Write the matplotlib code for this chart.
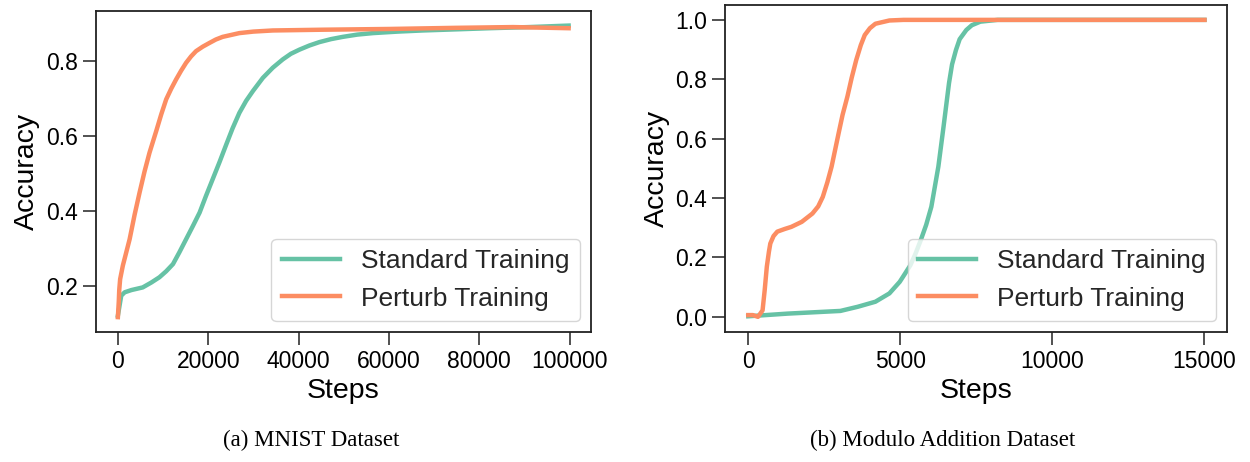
import numpy as np
import matplotlib
matplotlib.use('Agg')
import matplotlib.pyplot as plt

# MNIST
mnist_std_steps = [0, 740, 1500, 3000, 5500, 7400, 9200, 10700, 12200, 13600, 15100, 16600,
                   18100, 19500, 21000, 22500, 24000, 25400, 26900, 28400, 29900, 32100,
                   34300, 36500, 38300, 40200, 42400, 44600, 47200, 49800, 53000, 56500,
                   62000, 67500, 75000, 82300, 91000, 99800]
mnist_std_acc = [0.122, 0.175, 0.184, 0.190, 0.197, 0.210, 0.224, 0.240, 0.259, 0.290, 0.325,
                 0.360, 0.396, 0.440, 0.485, 0.530, 0.577, 0.620, 0.661, 0.693, 0.719, 0.754,
                 0.781, 0.803, 0.818, 0.829, 0.840, 0.849, 0.857, 0.863, 0.869, 0.873,
                 0.877, 0.880, 0.883, 0.886, 0.889, 0.893]
mnist_pert_steps = [0, 200, 300, 500, 1100, 2600, 3700, 4800, 5900, 7000, 8500, 9600, 10700,
                    11800, 12900, 14000, 15100, 16200, 17300, 18800, 20300, 21700, 23200,
                    26900, 30000, 34300, 45400, 60100, 74900, 87500, 99800]
mnist_pert_acc = [0.118, 0.160, 0.190, 0.219, 0.255, 0.325, 0.390, 0.449, 0.505, 0.555, 0.613,
                  0.657, 0.697, 0.725, 0.750, 0.773, 0.794, 0.811, 0.825, 0.837, 0.847, 0.856,
                  0.863, 0.873, 0.877, 0.880, 0.882, 0.884, 0.887, 0.889, 0.886]

# Modulo addition
mod_std_steps = [0, 1300, 3030, 3600, 4180, 4640, 4980, 5150, 5330, 5500, 5670, 5850, 6020,
                 6250, 6420, 6600, 6700, 6830, 6950, 7170, 7350, 7630, 8200, 15000]
mod_std_acc = [0.002, 0.011, 0.020, 0.034, 0.051, 0.079, 0.118, 0.145, 0.174, 0.213, 0.258,
               0.310, 0.371, 0.506, 0.640, 0.787, 0.850, 0.899, 0.935, 0.966, 0.982, 0.994,
               1.0, 1.0]
mod_pert_steps = [0, 150, 320, 470, 540, 610, 680, 725, 830, 955, 1200, 1415, 1760, 2110,
                  2300, 2450, 2600, 2740, 2970, 3100, 3260, 3400, 3550, 3700, 3830, 4000,
                  4180, 4640, 5100, 15000]
mod_pert_acc = [0.006, 0.006, 0.0, 0.022, 0.090, 0.169, 0.220, 0.247, 0.272, 0.287, 0.296,
                0.303, 0.320, 0.348, 0.372, 0.404, 0.453, 0.506, 0.618, 0.680, 0.742, 0.805,
                0.865, 0.915, 0.949, 0.972, 0.987, 0.998, 1.0, 1.0]

green = '#66c2a5'
orange = '#fc8d62'

plt.rcParams['font.family'] = ['Liberation Sans', 'DejaVu Sans']

fig = plt.figure(figsize=(12.5, 4.62), dpi=100)
ax1 = fig.add_axes([0.0766, 0.282, 0.396, 0.6942])
ax2 = fig.add_axes([0.58, 0.282, 0.4016, 0.7071])

panels = [
    (ax1, mnist_std_steps, mnist_std_acc, mnist_pert_steps, mnist_pert_acc,
     [0, 20000, 40000, 60000, 80000, 100000], [0.2, 0.4, 0.6, 0.8]),
    (ax2, mod_std_steps, mod_std_acc, mod_pert_steps, mod_pert_acc,
     [0, 5000, 10000, 15000], [0.0, 0.2, 0.4, 0.6, 0.8, 1.0]),
]

for ax, s_x, s_y, p_x, p_y, xt, yt in panels:
    ax.plot(s_x, s_y, color=green, lw=3.2, label='Standard Training',
            solid_joinstyle='round')
    ax.plot(p_x, p_y, color=orange, lw=3.2, label='Perturb Training',
            solid_joinstyle='round')
    ax.set_xticks(xt)
    ax.set_yticks(yt)
    ax.set_yticklabels(['%.1f' % v for v in yt])
    ax.set_xlabel('Steps', fontsize=20.5)
    ax.set_ylabel('Accuracy', fontsize=20.5)
    ax.tick_params(labelsize=16.5, length=9.5, width=1.1, color='#222222')
    for sp in ax.spines.values():
        sp.set_linewidth(1.3)
        sp.set_color('#222222')
    leg = ax.legend(loc='lower right', fontsize=19, handlelength=2.2, framealpha=0.8,
                    fancybox=True, borderaxespad=0.4)
    leg.get_frame().set_edgecolor('#cccccc')
    for t in leg.get_texts():
        t.set_color('#262626')

ax1.set_xlim(-4900, 104700)
ax2.set_xlim(-765, 15740)

fig.text(0.249, 0.035, '(a) MNIST Dataset', ha='center', fontsize=16.5,
         family='Liberation Serif')
fig.text(0.754, 0.035, '(b) Modulo Addition Dataset', ha='center', fontsize=16.5,
         family='Liberation Serif')

fig.savefig('out.png', dpi=100)
